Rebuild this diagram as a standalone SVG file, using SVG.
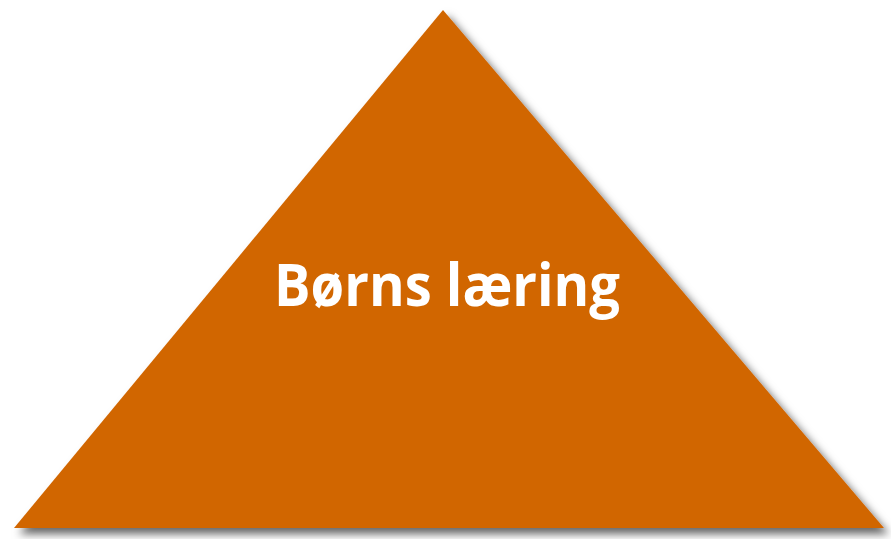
<svg xmlns="http://www.w3.org/2000/svg" width="891" height="539" viewBox="0 0 891 539">
<defs>
<filter id="sh" x="-10%" y="-10%" width="120%" height="120%">
<feGaussianBlur in="SourceAlpha" stdDeviation="4"/>
<feOffset dx="5" dy="6" result="b"/>
<feFlood flood-color="#000" flood-opacity="0.6"/>
<feComposite in2="b" operator="in"/>
<feMerge><feMergeNode/><feMergeNode in="SourceGraphic"/></feMerge>
</filter>
<style>
.tri{fill:#D16600;}
.lbl{font-family:"Open Sans","Noto Sans",sans-serif;font-weight:bold;font-size:59px;fill:#fff;}
</style>
</defs>
<rect width="891" height="539" fill="#fff"/>
<g id="triangle">
<polygon class="tri" points="443,10 884,528 14,528" filter="url(#sh)"/>
<text class="lbl" x="447" y="306" text-anchor="middle" textLength="346" lengthAdjust="spacingAndGlyphs">Børns læring</text>
</g>
</svg>
